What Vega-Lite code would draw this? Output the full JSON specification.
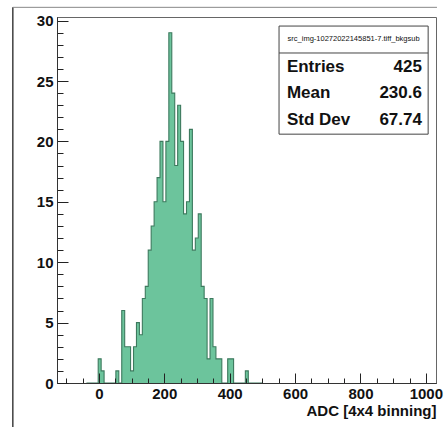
{
  "$schema": "https://vega.github.io/schema/vega-lite/v6.json",
  "autosize": "none",
  "width": 379,
  "height": 366,
  "padding": {"left": 57, "top": 17, "right": 11, "bottom": 44},
  "background": "white",
  "config": {"view": {"stroke": "#666", "strokeWidth": 1}, "font": "Liberation Sans"},
  "datasets": {
    "hist": [
      {"lo": -38, "count": 0}, {"lo": -29, "count": 0}, {"lo": -20, "count": 0}, {"lo": -11, "count": 0},
      {"lo": -2, "count": 2}, {"lo": 7, "count": 1}, {"lo": 16, "count": 0}, {"lo": 25, "count": 0},
      {"lo": 34, "count": 0}, {"lo": 43, "count": 0}, {"lo": 52, "count": 1}, {"lo": 61, "count": 0},
      {"lo": 70, "count": 6}, {"lo": 79, "count": 3}, {"lo": 88, "count": 3}, {"lo": 97, "count": 1},
      {"lo": 106, "count": 3}, {"lo": 115, "count": 5}, {"lo": 124, "count": 4}, {"lo": 133, "count": 7},
      {"lo": 142, "count": 8}, {"lo": 151, "count": 11}, {"lo": 160, "count": 13}, {"lo": 169, "count": 15},
      {"lo": 178, "count": 17}, {"lo": 187, "count": 20}, {"lo": 196, "count": 15}, {"lo": 205, "count": 20},
      {"lo": 214, "count": 29}, {"lo": 223, "count": 24}, {"lo": 232, "count": 18}, {"lo": 241, "count": 23},
      {"lo": 250, "count": 20}, {"lo": 259, "count": 14}, {"lo": 268, "count": 15}, {"lo": 277, "count": 21},
      {"lo": 286, "count": 11}, {"lo": 295, "count": 12}, {"lo": 304, "count": 14}, {"lo": 313, "count": 8},
      {"lo": 322, "count": 7}, {"lo": 331, "count": 2}, {"lo": 340, "count": 7}, {"lo": 349, "count": 3},
      {"lo": 358, "count": 2}, {"lo": 367, "count": 2}, {"lo": 376, "count": 0}, {"lo": 385, "count": 0},
      {"lo": 394, "count": 2}, {"lo": 403, "count": 2}, {"lo": 412, "count": 0}, {"lo": 421, "count": 0},
      {"lo": 430, "count": 0}, {"lo": 439, "count": 0}, {"lo": 448, "count": 1}, {"lo": 457, "count": 0},
      {"lo": 466, "count": 0}, {"lo": 475, "count": 0}, {"lo": 484, "count": 0}, {"lo": 493, "count": 0},
      {"lo": 502, "count": 0}
    ]
  },
  "resolve": {"scale": {"x": "independent", "y": "independent"}, "axis": {"x": "independent", "y": "independent"}},
  "layer": [
    {
      "data": {"name": "hist"},
      "mark": {"type": "area", "interpolate": "step-after", "color": "#6cc49c"},
      "encoding": {
        "x": {
          "field": "lo", "type": "quantitative",
          "scale": {"domain": [-128, 1031], "nice": false, "zero": false},
          "axis": {
            "orient": "bottom",
            "values": [-100, -50, 50, 100, 150, 250, 300, 350, 450, 500, 550, 650, 700, 750, 850, 900, 950],
            "labels": false,
            "tickSize": -5,
            "tickColor": "#222",
            "domainColor": "#333",
            "grid": false,
            "zindex": 1,
            "title": null
          }
        },
        "y": {
          "field": "count", "type": "quantitative",
          "scale": {"domain": [0, 30.3], "nice": false, "zero": false},
          "axis": {
            "orient": "left",
            "values": [1, 2, 3, 4, 6, 7, 8, 9, 11, 12, 13, 14, 16, 17, 18, 19, 21, 22, 23, 24, 26, 27, 28, 29],
            "labels": false,
            "tickSize": -6,
            "tickColor": "#222",
            "domainColor": "#333",
            "grid": false,
            "zindex": 1,
            "title": null
          }
        }
      }
    },
    {
      "data": {"name": "hist"},
      "mark": {"type": "line", "interpolate": "step-after", "color": "#3d7a5e", "strokeWidth": 1.1},
      "encoding": {
        "x": {
          "field": "lo", "type": "quantitative",
          "scale": {"domain": [-128, 1031], "nice": false, "zero": false},
          "axis": {
            "orient": "bottom",
            "values": [0, 200, 400, 600, 800, 1000],
            "format": "d",
            "tickSize": -10,
            "tickColor": "#222",
            "domainColor": "#333",
            "labelFont": "Liberation Sans",
            "labelFontWeight": "bold",
            "labelFontSize": 15,
            "labelColor": "#111",
            "labelPadding": 13,
            "labelFlush": false,
            "labelOverlap": false,
            "grid": false,
            "zindex": 1,
            "title": "ADC [4x4 binning]",
            "titleFont": "Liberation Sans",
            "titleFontWeight": "bold",
            "titleFontSize": 15,
            "titleColor": "#111",
            "titleAnchor": "end",
            "titleAlign": "right",
            "titleBaseline": "middle",
            "titleX": 379,
            "titleY": 27
          }
        },
        "y": {
          "field": "count", "type": "quantitative",
          "scale": {"domain": [0, 30.3], "nice": false, "zero": false},
          "axis": {
            "orient": "left",
            "values": [0, 5, 10, 15, 20, 25, 30],
            "format": "d",
            "tickSize": -11,
            "tickColor": "#222",
            "domainColor": "#333",
            "labelFont": "Liberation Sans",
            "labelFontWeight": "bold",
            "labelFontSize": 15,
            "labelColor": "#111",
            "labelPadding": 15,
            "labelFlush": false,
            "labelOverlap": false,
            "grid": false,
            "zindex": 1,
            "title": null
          }
        }
      }
    },
    {
      "data": {"values": [{}]},
      "mark": {"type": "rect", "fill": "white", "stroke": "#444", "strokeWidth": 1},
      "encoding": {
        "x": {"datum": 551, "type": "quantitative", "scale": {"domain": [-128, 1031], "nice": false, "zero": false}, "axis": null},
        "x2": {"datum": 1007},
        "y": {"datum": 20.6, "type": "quantitative", "scale": {"domain": [0, 30.3], "nice": false, "zero": false}, "axis": null},
        "y2": {"datum": 29.55}
      }
    },
    {
      "data": {"values": [{}]},
      "mark": {"type": "rule", "stroke": "#444", "strokeWidth": 1},
      "encoding": {
        "x": {"datum": 551, "type": "quantitative", "scale": {"domain": [-128, 1031], "nice": false, "zero": false}, "axis": null},
        "x2": {"datum": 1007},
        "y": {"datum": 27.32, "type": "quantitative", "scale": {"domain": [0, 30.3], "nice": false, "zero": false}, "axis": null}
      }
    },
    {
      "data": {"values": [{}]},
      "mark": {"type": "text", "text": "src_img-10272022145851-7.tiff_bkgsub", "font": "Liberation Sans", "fontSize": 7.5, "align": "center", "baseline": "middle", "color": "#111"},
      "encoding": {
        "x": {"datum": 779, "type": "quantitative", "scale": {"domain": [-128, 1031], "nice": false, "zero": false}, "axis": null},
        "y": {"datum": 28.45, "type": "quantitative", "scale": {"domain": [0, 30.3], "nice": false, "zero": false}, "axis": null}
      }
    },
    {
      "data": {"values": [{}]},
      "mark": {"type": "text", "text": "Entries", "font": "Liberation Sans", "fontWeight": "bold", "fontSize": 17, "align": "left", "baseline": "middle", "color": "#111"},
      "encoding": {
        "x": {"datum": 575, "type": "quantitative", "scale": {"domain": [-128, 1031], "nice": false, "zero": false}, "axis": null},
        "y": {"datum": 26.18, "type": "quantitative", "scale": {"domain": [0, 30.3], "nice": false, "zero": false}, "axis": null}
      }
    },
    {
      "data": {"values": [{}]},
      "mark": {"type": "text", "text": "Mean", "font": "Liberation Sans", "fontWeight": "bold", "fontSize": 17, "align": "left", "baseline": "middle", "color": "#111"},
      "encoding": {
        "x": {"datum": 575, "type": "quantitative", "scale": {"domain": [-128, 1031], "nice": false, "zero": false}, "axis": null},
        "y": {"datum": 23.98, "type": "quantitative", "scale": {"domain": [0, 30.3], "nice": false, "zero": false}, "axis": null}
      }
    },
    {
      "data": {"values": [{}]},
      "mark": {"type": "text", "text": "Std Dev", "font": "Liberation Sans", "fontWeight": "bold", "fontSize": 17, "align": "left", "baseline": "middle", "color": "#111"},
      "encoding": {
        "x": {"datum": 575, "type": "quantitative", "scale": {"domain": [-128, 1031], "nice": false, "zero": false}, "axis": null},
        "y": {"datum": 21.77, "type": "quantitative", "scale": {"domain": [0, 30.3], "nice": false, "zero": false}, "axis": null}
      }
    },
    {
      "data": {"values": [{}]},
      "mark": {"type": "text", "text": "425", "font": "Liberation Sans", "fontWeight": "bold", "fontSize": 17, "align": "right", "baseline": "middle", "color": "#111"},
      "encoding": {
        "x": {"datum": 988, "type": "quantitative", "scale": {"domain": [-128, 1031], "nice": false, "zero": false}, "axis": null},
        "y": {"datum": 26.18, "type": "quantitative", "scale": {"domain": [0, 30.3], "nice": false, "zero": false}, "axis": null}
      }
    },
    {
      "data": {"values": [{}]},
      "mark": {"type": "text", "text": "230.6", "font": "Liberation Sans", "fontWeight": "bold", "fontSize": 17, "align": "right", "baseline": "middle", "color": "#111"},
      "encoding": {
        "x": {"datum": 988, "type": "quantitative", "scale": {"domain": [-128, 1031], "nice": false, "zero": false}, "axis": null},
        "y": {"datum": 23.98, "type": "quantitative", "scale": {"domain": [0, 30.3], "nice": false, "zero": false}, "axis": null}
      }
    },
    {
      "data": {"values": [{}]},
      "mark": {"type": "text", "text": "67.74", "font": "Liberation Sans", "fontWeight": "bold", "fontSize": 17, "align": "right", "baseline": "middle", "color": "#111"},
      "encoding": {
        "x": {"datum": 988, "type": "quantitative", "scale": {"domain": [-128, 1031], "nice": false, "zero": false}, "axis": null},
        "y": {"datum": 21.77, "type": "quantitative", "scale": {"domain": [0, 30.3], "nice": false, "zero": false}, "axis": null}
      }
    },
    {
      "data": {"values": [{}]},
      "mark": {"type": "rule", "stroke": "#111", "strokeWidth": 1.2},
      "encoding": {
        "x": {"datum": -263, "type": "quantitative", "scale": {"domain": [-128, 1031], "nice": false, "zero": false}, "axis": null},
        "y": {"datum": 31.1, "type": "quantitative", "scale": {"domain": [0, 30.3], "nice": false, "zero": false}, "axis": null},
        "y2": {"datum": -3.7}
      }
    },
    {
      "data": {"values": [{}]},
      "mark": {"type": "rule", "stroke": "#888", "strokeWidth": 1},
      "encoding": {
        "y": {"datum": 31.1, "type": "quantitative", "scale": {"domain": [0, 30.3], "nice": false, "zero": false}, "axis": null},
        "x": {"datum": -263, "type": "quantitative", "scale": {"domain": [-128, 1031], "nice": false, "zero": false}, "axis": null},
        "x2": {"datum": 1034}
      }
    }
  ]
}
